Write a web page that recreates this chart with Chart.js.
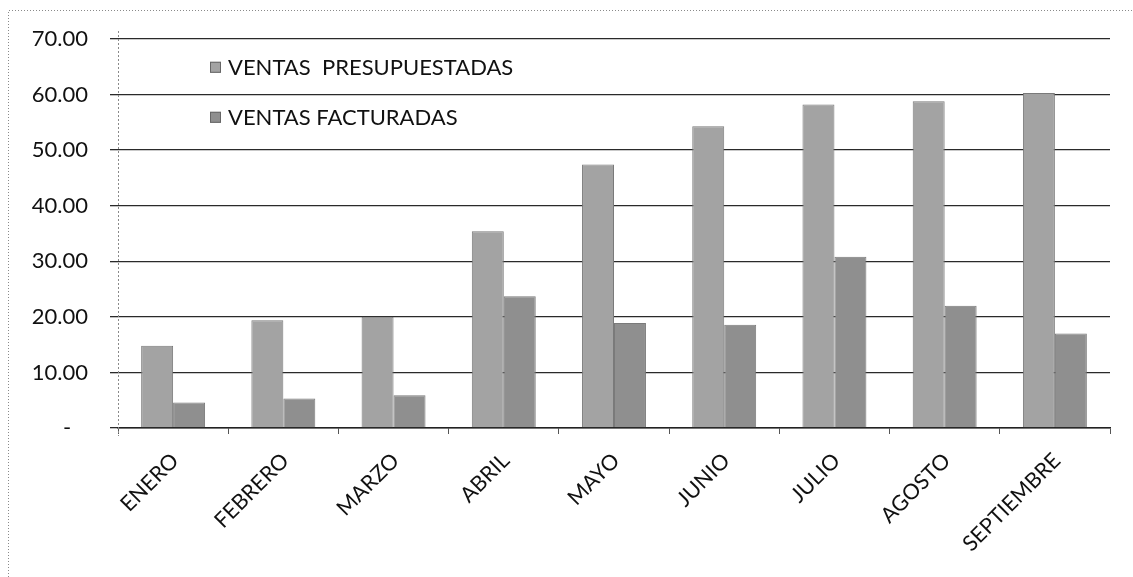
<!DOCTYPE html>
<html>
<head>
<meta charset="utf-8">
<script src="https://cdn.jsdelivr.net/npm/chart.js@4"></script>
<style>
  html, body { margin: 0; padding: 0; background: #fff; }
  #wrap { position: relative; width: 1133px; height: 577px; }
</style>
</head>
<body>
<div id="wrap"><canvas id="c" width="1133" height="577"></canvas></div>
<script>
const categories = ['ENERO', 'FEBRERO', 'MARZO', 'ABRIL', 'MAYO', 'JUNIO', 'JULIO', 'AGOSTO', 'SEPTIEMBRE'];
const presupuestadas = [14.8, 19.4, 20.0, 35.4, 47.4, 54.3, 58.2, 58.8, 60.3];
const facturadas = [4.6, 5.3, 5.9, 23.7, 18.9, 18.6, 30.8, 22.0, 17.0];
const seriesNames = ['VENTAS  PRESUPUESTADAS', 'VENTAS FACTURADAS'];
const yTicks = [0, 10, 20, 30, 40, 50, 60, 70];

const FONT = 'Lato, "Liberation Sans", sans-serif';
const colors = ['#a3a3a3', '#8f8f8f'];

const outerBorder = {
  id: 'outerBorder',
  beforeDraw(chart) {
    const ctx = chart.ctx;
    ctx.save();
    ctx.strokeStyle = '#8a8a8a';
    ctx.lineWidth = 1;
    ctx.setLineDash([1, 2]);
    ctx.beginPath();
    ctx.moveTo(8.5, 577);
    ctx.lineTo(8.5, 10.5);
    ctx.lineTo(1133, 10.5);
    ctx.stroke();
    ctx.restore();
  },
  afterDatasetsDraw(chart) {
    const ctx = chart.ctx;
    const area = chart.chartArea;
    ctx.save();
    ctx.strokeStyle = '#8a8a8a';
    ctx.lineWidth = 1;
    ctx.setLineDash([2, 2]);
    ctx.beginPath();
    ctx.moveTo(Math.round(area.left) + 0.5, area.top - 8);
    ctx.lineTo(Math.round(area.left) + 0.5, area.bottom + 8);
    ctx.stroke();
    ctx.restore();
  }
};

const innerLegend = {
  id: 'innerLegend',
  afterDraw(chart) {
    const ctx = chart.ctx;
    const area = chart.chartArea;
    ctx.save();
    ctx.font = '22px ' + FONT;
    ctx.textBaseline = 'middle';
    ctx.textAlign = 'left';
    const rows = [chart.scales.y.getPixelForValue(65), chart.scales.y.getPixelForValue(56)];
    chart.data.datasets.forEach((ds, i) => {
      const y = rows[i];
      ctx.fillStyle = ds.backgroundColor;
      ctx.fillRect(area.left + 92, y - 5, 11, 11);
      ctx.strokeStyle = '#666';
      ctx.lineWidth = 1;
      ctx.strokeRect(area.left + 92.5, y - 4.5, 10, 10);
      ctx.fillStyle = '#111';
      ctx.fillText(ds.label, area.left + 110, y + 1);
    });
    ctx.restore();
  }
};

new Chart(document.getElementById('c'), {
  type: 'bar',
  data: {
    labels: categories,
    datasets: [
      { label: seriesNames[0], data: presupuestadas, backgroundColor: colors[0],
        borderColor: '#7a7a7a', borderWidth: 1, borderSkipped: 'bottom' },
      { label: seriesNames[1], data: facturadas, backgroundColor: colors[1],
        borderColor: '#7a7a7a', borderWidth: 1, borderSkipped: 'bottom' }
    ]
  },
  options: {
    responsive: false,
    animation: false,
    devicePixelRatio: 1,
    layout: { padding: { left: 0, top: 39, right: 23, bottom: 0 } },
    datasets: { bar: { barPercentage: 1.0, categoryPercentage: 0.58 } },
    plugins: {
      legend: { display: false },
      tooltip: { enabled: false },
      title: { display: false }
    },
    scales: {
      x: {
        grid: { offset: true, drawOnChartArea: false, drawTicks: true, tickLength: 6, color: '#555' },
        border: { display: true, color: '#222', width: 1.5 },
        ticks: {
          autoSkip: false, maxRotation: 45, minRotation: 45, labelOffset: 2, padding: 14,
          color: '#111', font: { family: FONT, size: 21.5 }
        },
        afterFit(scale) { scale.height = 149; }
      },
      y: {
        min: 0, max: 70,
        afterBuildTicks(scale) { scale.ticks = yTicks.map(v => ({ value: v })); },
        grid: { color: '#2a2a2a', lineWidth: 1.3, tickLength: 8 },
        border: { display: false },
        ticks: {
          padding: 22, color: '#111', font: { family: FONT, size: 22 },
          callback: v => v === 0 ? '-   ' : v.toFixed(2)
        },
        afterFit(scale) { scale.width = 118; }
      }
    }
  },
  plugins: [outerBorder, innerLegend]
});
</script>
</body>
</html>
